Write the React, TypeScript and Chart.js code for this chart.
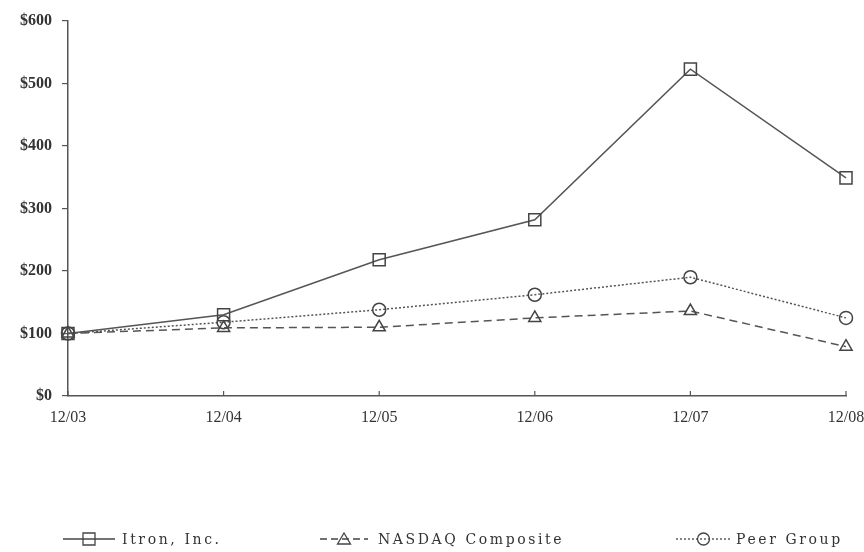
import React, { useEffect, useRef } from "react";
import { Chart, registerables } from "chart.js";

Chart.register(...registerables);

const categories = ["12/03", "12/04", "12/05", "12/06", "12/07", "12/08"];
const itron = [100, 130, 218, 282, 523, 349];
const nasdaq = [100, 109, 110, 125, 136, 79];
const peer = [100, 118, 138, 162, 190, 125];
const seriesNames = ["Itron, Inc.", "NASDAQ Composite", "Peer Group"];
const yTicks = [0, 100, 200, 300, 400, 500, 600];

const LINE = "#555555";
const FONT = "'Liberation Serif', 'Times New Roman', serif";
const LEGEND_FONT = "'DejaVu Serif', serif";

type LegendItem = { name: string; x0: number; x1: number; tx: number; dash: number[]; style: string };

function drawMarker(ctx: CanvasRenderingContext2D, style: string, x: number, y: number) {
  ctx.beginPath();
  if (style === "rect") {
    ctx.rect(x - 6, y - 6, 12, 12);
  } else if (style === "triangle") {
    ctx.moveTo(x, y - 6);
    ctx.lineTo(x + 6.5, y + 5);
    ctx.lineTo(x - 6.5, y + 5);
    ctx.closePath();
  } else {
    ctx.arc(x, y, 6, 0, Math.PI * 2);
  }
  ctx.stroke();
}

const customPlugin = {
  id: "custom",
  afterDraw(chart: any) {
    const ctx: CanvasRenderingContext2D = chart.ctx;
    const xs = chart.scales.x;
    const area = chart.chartArea;
    ctx.save();
    // x ticks pointing inward
    ctx.strokeStyle = LINE;
    ctx.lineWidth = 1.2;
    ctx.setLineDash([]);
    categories.forEach((_, i) => {
      const x = xs.getPixelForValue(i);
      ctx.beginPath();
      ctx.moveTo(x, area.bottom);
      ctx.lineTo(x, area.bottom - 5);
      ctx.stroke();
    });
    // legend
    const items: LegendItem[] = [
      { name: seriesNames[0], x0: 63, x1: 115, tx: 122, dash: [], style: "rect" },
      { name: seriesNames[1], x0: 320, x1: 368, tx: 378, dash: [7, 4], style: "triangle" },
      { name: seriesNames[2], x0: 676, x1: 731, tx: 736, dash: [2, 2], style: "circle" },
    ];
    const y = 539;
    items.forEach((it) => {
      ctx.strokeStyle = "#444444";
      ctx.lineWidth = 1.3;
      ctx.setLineDash(it.dash);
      ctx.beginPath();
      ctx.moveTo(it.x0, y);
      ctx.lineTo(it.x1, y);
      ctx.stroke();
      ctx.setLineDash([]);
      drawMarker(ctx, it.style, (it.x0 + it.x1) / 2, y);
      ctx.fillStyle = "#333333";
      ctx.font = `14px ${LEGEND_FONT}`;
      ctx.letterSpacing = "2.6px";
      ctx.textBaseline = "middle";
      ctx.textAlign = "left";
      ctx.fillText(it.name, it.tx, y + 1);
      ctx.letterSpacing = "0px";
    });
    ctx.restore();
  },
};

export default function App() {
  const ref = useRef<HTMLCanvasElement | null>(null);
  useEffect(() => {
    document.body.style.margin = "0";
    const canvas = ref.current!;
    const chart = new Chart(canvas, {
      type: "line",
      data: {
        labels: categories,
        datasets: [
          {
            label: seriesNames[0],
            data: itron,
            borderColor: LINE,
            borderWidth: 1.5,
            pointStyle: "rect",
            pointRadius: 8.5,
            pointBorderColor: "#444444",
            pointBorderWidth: 1.5,
            pointBackgroundColor: "rgba(0,0,0,0)",
            tension: 0,
          },
          {
            label: seriesNames[1],
            data: nasdaq,
            borderColor: LINE,
            borderWidth: 1.5,
            borderDash: [8, 5],
            pointStyle: "triangle",
            pointRadius: 7,
            pointBorderColor: "#444444",
            pointBorderWidth: 1.5,
            pointBackgroundColor: "rgba(0,0,0,0)",
            tension: 0,
          },
          {
            label: seriesNames[2],
            data: peer,
            borderColor: LINE,
            borderWidth: 1.5,
            borderDash: [2, 2],
            pointStyle: "circle",
            pointRadius: 6.5,
            pointBorderColor: "#444444",
            pointBorderWidth: 1.5,
            pointBackgroundColor: "rgba(0,0,0,0)",
            tension: 0,
          },
        ],
      },
      options: {
        animation: false,
        responsive: false,
        devicePixelRatio: 1,
        layout: { padding: { top: 21, right: 18, bottom: 0, left: 0 } },
        plugins: { legend: { display: false }, tooltip: { enabled: false } },
        scales: {
          x: {
            offset: false,
            grid: { display: false, drawTicks: false },
            border: { display: true, color: LINE, width: 1.5 },
            ticks: {
              color: "#333333",
              font: { family: FONT, size: 16 },
              padding: 12,
              maxRotation: 0,
              autoSkip: false,
            },
            afterFit: (s: any) => {
              s.height = 156;
              s.paddingRight = 0;
            },
          },
          y: {
            min: 0,
            max: 600,
            afterBuildTicks: (s: any) => {
              s.ticks = yTicks.map((v) => ({ value: v }));
            },
            grid: { drawOnChartArea: false, tickLength: 6, color: LINE, lineWidth: 1.2 },
            border: { display: true, color: LINE, width: 1.5 },
            ticks: {
              color: "#333333",
              font: { family: FONT, size: 16, weight: "bold" },
              padding: 10,
              callback: (v: any) => `$${v}`,
            },
            afterFit: (s: any) => {
              s.width = 68;
            },
          },
        },
      },
      plugins: [customPlugin],
    });
    return () => chart.destroy();
  }, []);
  return (
    <div style={{ width: 864, height: 552, background: "#fff" }}>
      <canvas ref={ref} width={864} height={552} style={{ display: "block" }} />
    </div>
  );
}
